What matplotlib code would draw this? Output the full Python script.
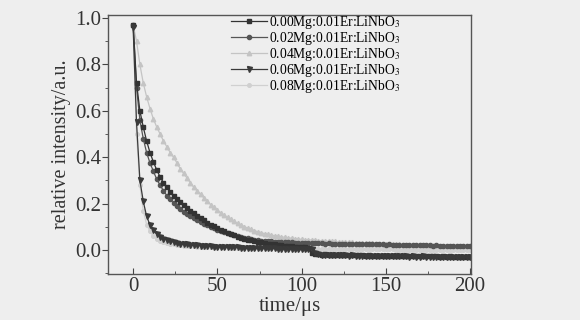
import numpy as np
import matplotlib
matplotlib.use("Agg")
import matplotlib.pyplot as plt
from matplotlib import ticker

plt.rcParams['font.family'] = ['Liberation Serif', 'DejaVu Serif']
plt.rcParams['mathtext.fontset'] = 'stix'

# time axis, 2 us steps
time_us = np.arange(0, 202, 2)

mg000 = [0.97, 0.72, 0.60, 0.53, 0.47, 0.42, 0.38, 0.345, 0.315, 0.29,
         0.27, 0.252, 0.235, 0.222, 0.206, 0.193, 0.181, 0.170, 0.158, 0.147,
         0.137, 0.128, 0.118, 0.110, 0.102, 0.095, 0.088, 0.081, 0.075, 0.069,
         0.063, 0.058, 0.053, 0.049, 0.045, 0.042, 0.038, 0.035, 0.033, 0.030,
         0.028, 0.026, 0.024, 0.022, 0.021, 0.019, 0.018, 0.016, 0.015, 0.014,
         0.013, 0.012, 0.010, -0.012, -0.018, -0.019, -0.020, -0.019, -0.021, -0.020,
         -0.021, -0.022, -0.021, -0.022, -0.022, -0.023, -0.022, -0.023, -0.023, -0.024,
         -0.023, -0.024, -0.024, -0.025, -0.024, -0.025, -0.025, -0.024, -0.025, -0.026,
         -0.025, -0.026, -0.026, -0.025, -0.026, -0.027, -0.026, -0.027, -0.027, -0.026,
         -0.027, -0.028, -0.027, -0.028, -0.027, -0.028, -0.028, -0.029, -0.028, -0.028,
         -0.029]

mg002 = [0.97, 0.70, 0.56, 0.48, 0.42, 0.375, 0.34, 0.305, 0.28, 0.255,
         0.235, 0.218, 0.202, 0.190, 0.177, 0.166, 0.156, 0.147, 0.138, 0.130,
         0.122, 0.114, 0.107, 0.100, 0.094, 0.088, 0.082, 0.077, 0.072, 0.067,
         0.063, 0.059, 0.056, 0.053, 0.050, 0.047, 0.045, 0.043, 0.041, 0.039,
         0.038, 0.037, 0.036, 0.035, 0.034, 0.034, 0.033, 0.033, 0.032, 0.032,
         0.031, 0.031, 0.030, 0.030, 0.030, 0.029, 0.029, 0.028, 0.029, 0.028,
         0.028, 0.027, 0.028, 0.027, 0.026, 0.027, 0.026, 0.026, 0.025, 0.026,
         0.025, 0.024, 0.025, 0.024, 0.024, 0.023, 0.024, 0.023, 0.022, 0.023,
         0.022, 0.022, 0.021, 0.022, 0.021, 0.020, 0.021, 0.020, 0.020, 0.019,
         0.020, 0.019, 0.018, 0.019, 0.018, 0.018, 0.017, 0.018, 0.017, 0.016,
         0.017]

mg004 = [0.97, 0.90, 0.80, 0.72, 0.66, 0.61, 0.565, 0.53, 0.50, 0.47,
         0.445, 0.42, 0.40, 0.375, 0.35, 0.33, 0.31, 0.29, 0.27, 0.255,
         0.24, 0.225, 0.21, 0.196, 0.184, 0.172, 0.161, 0.151, 0.141, 0.132,
         0.123, 0.115, 0.108, 0.101, 0.095, 0.089, 0.084, 0.079, 0.075, 0.071,
         0.068, 0.065, 0.062, 0.059, 0.057, 0.055, 0.053, 0.051, 0.049, 0.048,
         0.046, 0.045, 0.044, 0.043, 0.042, 0.041, 0.040, 0.039, 0.038, 0.038,
         0.037, 0.036, 0.035, 0.035, 0.034, 0.033, 0.032, 0.032, 0.031, 0.030,
         0.030, 0.029, 0.028, 0.028, 0.027, 0.026, 0.026, 0.025, 0.024, 0.024,
         0.023, 0.022, 0.022, 0.021, 0.020, 0.020, 0.019, 0.018, 0.018, 0.017,
         0.017, 0.016, 0.015, 0.015, 0.014, 0.014, 0.013, 0.013, 0.012, 0.012,
         0.011]

mg006 = [0.96, 0.55, 0.30, 0.21, 0.145, 0.108, 0.085, 0.068, 0.057, 0.049,
         0.043, 0.038, 0.034, 0.031, 0.028, 0.026, 0.024, 0.022, 0.021, 0.020,
         0.019, 0.018, 0.017, 0.016, 0.015, 0.014, 0.014, 0.013, 0.012, 0.012,
         0.011, 0.011, 0.010, 0.010, 0.009, 0.009, 0.009, 0.008, 0.008, 0.008,
         0.007, 0.007, 0.007, 0.006, 0.006, 0.006, 0.005, 0.005, 0.005, 0.004,
         0.004, 0.004, 0.003, 0.003, -0.014, -0.018, -0.020, -0.021, -0.021, -0.022,
         -0.022, -0.023, -0.022, -0.023, -0.024, -0.023, -0.024, -0.024, -0.025, -0.024,
         -0.025, -0.025, -0.026, -0.025, -0.026, -0.026, -0.027, -0.026, -0.027, -0.027,
         -0.026, -0.027, -0.028, -0.027, -0.028, -0.028, -0.027, -0.028, -0.029, -0.028,
         -0.029, -0.029, -0.028, -0.029, -0.030, -0.029, -0.030, -0.029, -0.030, -0.030,
         -0.030]

mg008 = [0.96, 0.50, 0.28, 0.17, 0.11, 0.08, 0.06, 0.048, 0.040, 0.034,
         0.030, 0.027, 0.024, 0.022, 0.020, 0.019, 0.018, 0.017, 0.016, 0.015,
         0.014, 0.014, 0.013, 0.013, 0.012, 0.012, 0.011, 0.011, 0.011, 0.010,
         0.010, 0.010, 0.009, 0.009, 0.009, 0.009, 0.008, 0.008, 0.008, 0.008,
         0.007, 0.007, 0.007, 0.007, 0.007, 0.006, 0.006, 0.006, 0.006, 0.006,
         0.005, 0.005, 0.005, 0.005, 0.005, 0.005, 0.005, 0.004, 0.004, 0.004,
         0.004, 0.004, 0.004, 0.004, 0.004, 0.004, 0.003, 0.003, 0.003, 0.003,
         0.003, 0.003, 0.003, 0.003, 0.003, 0.003, 0.003, 0.003, 0.002, 0.002,
         0.002, 0.002, 0.002, 0.002, 0.002, 0.002, 0.002, 0.002, 0.002, 0.002,
         0.002, 0.002, 0.002, 0.001, 0.001, 0.001, 0.001, 0.001, 0.001, 0.001,
         0.001]

labels = ["0.00Mg:0.01Er:LiNbO$_3$", "0.02Mg:0.01Er:LiNbO$_3$",
          "0.04Mg:0.01Er:LiNbO$_3$", "0.06Mg:0.01Er:LiNbO$_3$",
          "0.08Mg:0.01Er:LiNbO$_3$"]

bg = '#eeeeee'
fig = plt.figure(figsize=(5.8, 3.2), dpi=100)
fig.patch.set_facecolor(bg)
ax = fig.add_axes([0.186, 0.144, 0.626, 0.809])
ax.set_facecolor(bg)

series = [mg000, mg002, mg004, mg006, mg008]
markers = ['s', 'o', '^', 'v', 'o']
colors = ['#333333', '#555555', '#c4c4c4', '#3a3a3a', '#d0d0d0']
sizes = [3.2, 3.0, 3.2, 3.6, 2.6]
# draw light curves first so the dark ones sit on top
order = [2, 4, 1, 0, 3]
handles = [None] * 5
for i in order:
    h, = ax.plot(time_us, series[i], marker=markers[i], color=colors[i],
                 markersize=sizes[i], linewidth=0.9, label=labels[i])
    handles[i] = h

ax.legend(handles=handles, labels=labels, loc='upper right',
          frameon=False, fontsize=9.8, handlelength=2.6,
          handletextpad=0.15, labelspacing=-0.08,
          borderaxespad=0.0, bbox_to_anchor=(0.82, 1.025))

ax.set_xlim(-15, 200.5)
ax.set_ylim(-0.103, 1.013)
ax.xaxis.set_major_locator(ticker.MultipleLocator(50))
ax.xaxis.set_minor_locator(ticker.MultipleLocator(25))
ax.yaxis.set_major_locator(ticker.MultipleLocator(0.2))
ax.yaxis.set_minor_locator(ticker.MultipleLocator(0.1))
ax.yaxis.set_major_formatter(ticker.FormatStrFormatter('%.1f'))
ax.tick_params(axis='x', which='both', direction='in', colors='#444444',
               labelcolor='#333333', labelsize=15, pad=2)
ax.tick_params(axis='x', which='major', length=4)
ax.tick_params(axis='x', which='minor', length=2)
ax.tick_params(axis='y', which='both', direction='out', colors='#444444',
               labelcolor='#333333', labelsize=15, pad=1)
ax.tick_params(axis='y', which='major', length=4)
ax.tick_params(axis='y', which='minor', length=2)
for s in ax.spines.values():
    s.set_color('#555555')
    s.set_linewidth(1.0)

ax.set_xlabel("time/μs", fontsize=15, color='#333333', labelpad=1)
ax.set_ylabel("relative intensity/a.u.", fontsize=14.5, color='#333333', labelpad=3)

plt.savefig("out.png", dpi=100, facecolor=bg)
plt.close()
